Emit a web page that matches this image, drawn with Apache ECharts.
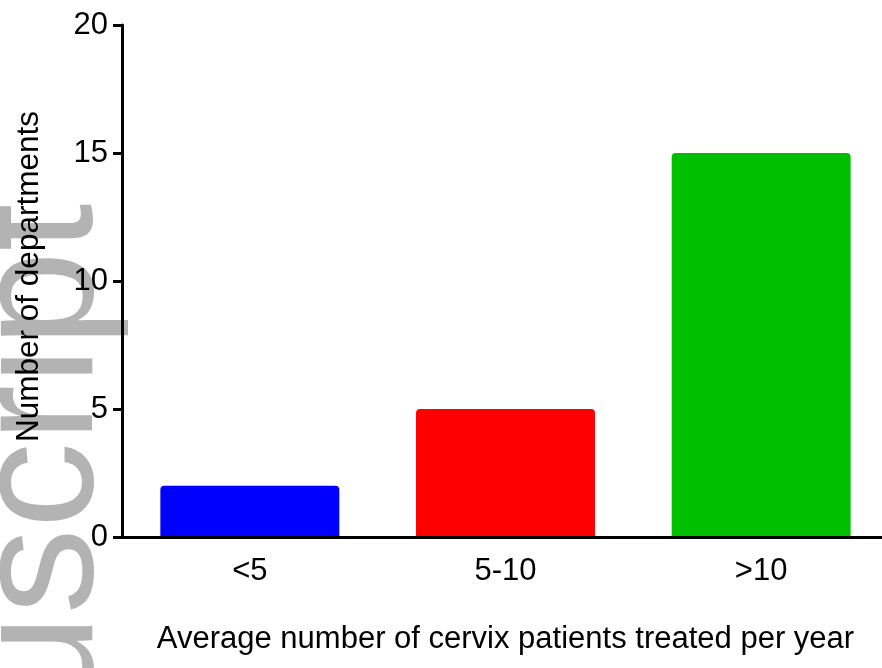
<!DOCTYPE html>
<html>
<head>
<meta charset="utf-8">
<script src="https://cdn.jsdelivr.net/npm/echarts@6/dist/echarts.min.js"></script>
<style>html,body{margin:0;padding:0;background:#fff}#c{width:882px;height:668px}</style>
</head>
<body>
<div id="c"></div>
<script>
const categories = ['<5', '5-10', '>10'];
const departments = [2, 5, 15];
const barColors = ['#0000ff', '#ff0000', '#00bf00'];
const yTicks = [0, 5, 10, 15, 20];
const xTitle = 'Average number of cervix patients treated per year';
const yTitle = 'Number of departments';
const watermark = 'uscript';

const chart = echarts.init(document.getElementById('c'), null, {renderer: 'canvas'});
const font = '"Liberation Sans", Arial, sans-serif';
chart.setOption({
  backgroundColor: '#ffffff',
  animation: false,
  graphic: [{
    type: 'text',
    z: -100,
    silent: true,
    x: 45,
    y: 710,
    rotation: Math.PI / 2,
    style: {
      text: watermark,
      fill: '#b3b3b3',
      font: '172px "Liberation Sans", Arial, sans-serif',
      textAlign: 'left',
      textVerticalAlign: 'middle'
    }
  }],
  grid: {left: 122, right: -7, top: 25, bottom: 131, containLabel: false, outerBoundsMode: 'none'},
  xAxis: {
    type: 'category',
    data: categories,
    name: xTitle,
    nameLocation: 'middle',
    nameGap: 87,
    nameTextStyle: {fontFamily: font, fontSize: 31, color: '#000'},
    axisLine: {lineStyle: {color: '#000', width: 3}},
    axisTick: {show: false},
    axisLabel: {fontFamily: font, fontSize: 31, color: '#000', margin: 19},
    z: 5
  },
  yAxis: {
    type: 'value',
    min: 0, max: 20, interval: 5,
    name: yTitle,
    nameLocation: 'middle',
    nameGap: 77,
    nameTextStyle: {fontFamily: font, fontSize: 31.5, color: '#000', padding: [0, 0, 0, 9]},
    splitLine: {show: false},
    axisLine: {show: true, lineStyle: {color: '#000', width: 3}},
    axisTick: {show: true, length: 9, lineStyle: {color: '#000', width: 3}},
    axisLabel: {fontFamily: font, fontSize: 31, color: '#000', margin: 14,
      formatter: v => yTicks.includes(v) ? String(v) : ''},
    z: 5
  },
  series: [{
    type: 'bar',
    data: departments.map((v, i) => ({value: v, itemStyle: {color: barColors[i]}})),
    barCategoryGap: '30%',
    itemStyle: {borderRadius: [4, 4, 0, 0]},
    z: 1
  }]
});
</script>
</body>
</html>
